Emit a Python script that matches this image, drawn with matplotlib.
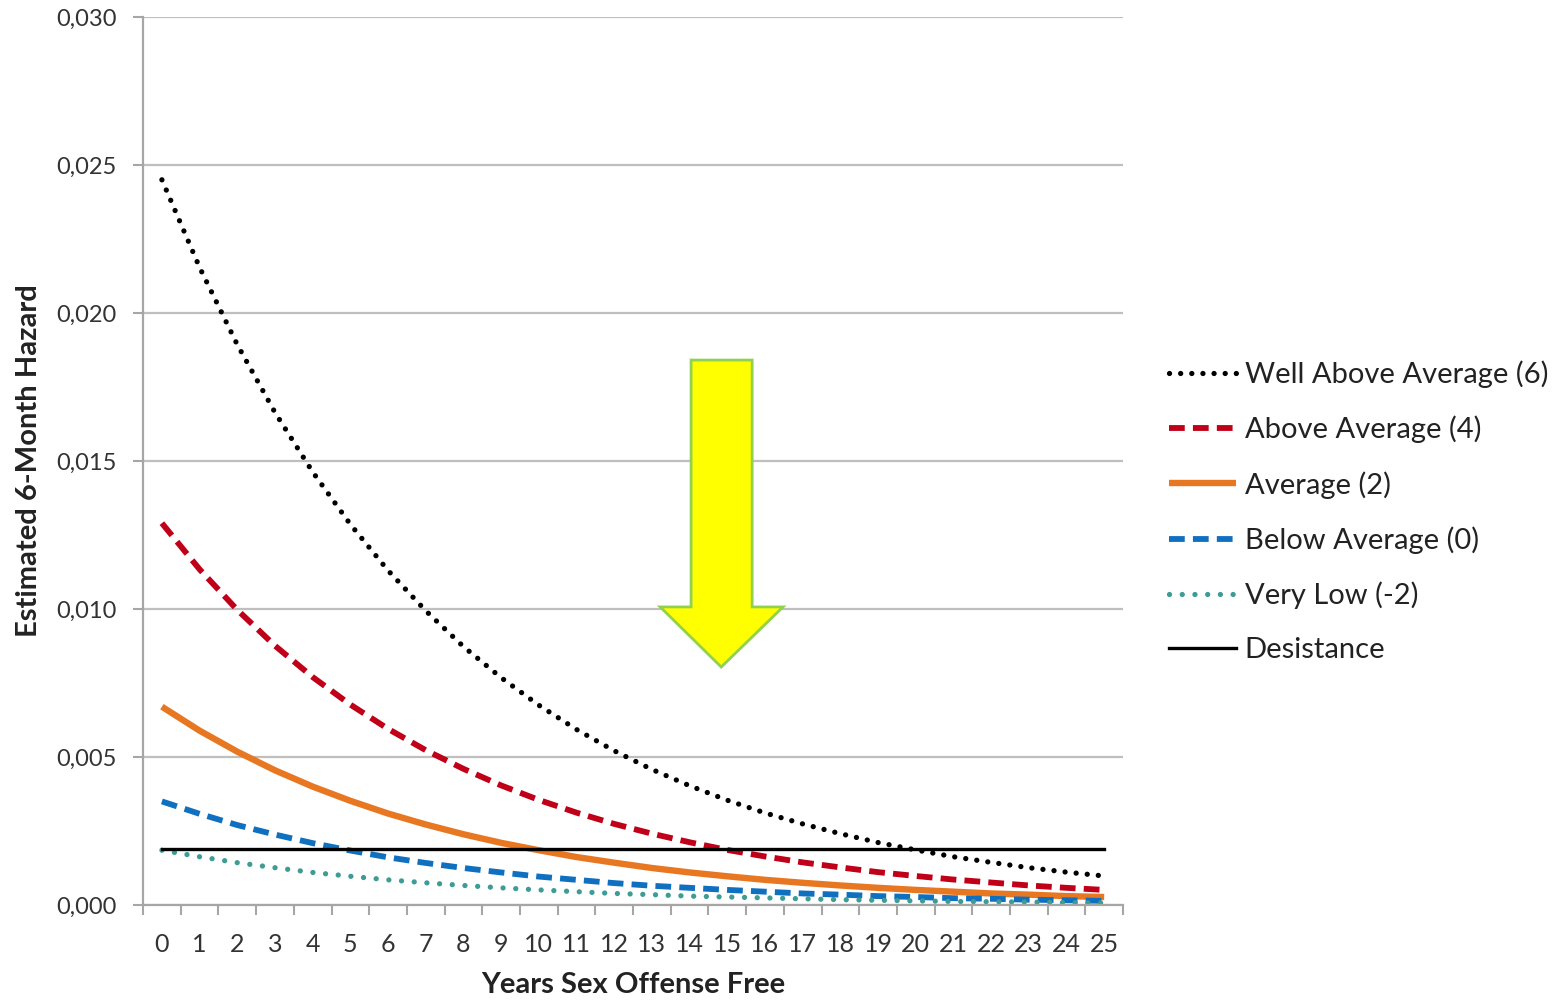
import numpy as np
import matplotlib
matplotlib.use("Agg")
import matplotlib.pyplot as plt
from matplotlib.patches import Polygon
from matplotlib.ticker import FuncFormatter, MultipleLocator

plt.rcParams['font.family'] = ['Lato', 'DejaVu Sans']

# values
years = list(range(0, 26))
well_above = [0.0245, 0.02154, 0.01893, 0.01664, 0.01463, 0.01286, 0.01130, 0.00994,
              0.00873, 0.00768, 0.00675, 0.00593, 0.00521, 0.00458, 0.00403, 0.00354,
              0.00311, 0.00274, 0.00241, 0.00211, 0.00186, 0.00163, 0.00144, 0.00126,
              0.00111, 0.00098]
above = [0.0129, 0.01134, 0.00997, 0.00876, 0.00770, 0.00677, 0.00595, 0.00523,
         0.00460, 0.00404, 0.00355, 0.00312, 0.00274, 0.00241, 0.00212, 0.00186,
         0.00164, 0.00144, 0.00127, 0.00111, 0.00098, 0.00086, 0.00076, 0.00066,
         0.00058, 0.00051]
average = [0.0067, 0.00589, 0.00518, 0.00455, 0.00400, 0.00352, 0.00309, 0.00272,
           0.00239, 0.00210, 0.00185, 0.00162, 0.00143, 0.00125, 0.00110, 0.00097,
           0.00085, 0.00075, 0.00066, 0.00058, 0.00051, 0.00045, 0.00039, 0.00035,
           0.00030, 0.00027]
below = [0.0035, 0.00308, 0.00270, 0.00238, 0.00209, 0.00184, 0.00161, 0.00142,
         0.00125, 0.00110, 0.00096, 0.00085, 0.00074, 0.00065, 0.00058, 0.00051,
         0.00045, 0.00039, 0.00035, 0.00030, 0.00027, 0.00023, 0.00021, 0.00018,
         0.00016, 0.00014]
very_low = [0.00185, 0.00163, 0.00143, 0.00126, 0.00110, 0.00097, 0.00085, 0.00075,
            0.00066, 0.00058, 0.00051, 0.00045, 0.00039, 0.00035, 0.00030, 0.00027,
            0.00024, 0.00021, 0.00018, 0.00016, 0.00014, 0.00012, 0.00011, 0.00010,
            0.00008, 0.00007]
desistance = [0.0019] * 26

fig = plt.figure(figsize=(15.6, 10), dpi=100)
ax = fig.add_axes([0.0917, 0.095, 0.6282, 0.888])

grey = "#A6A6A6"
ax.set_axisbelow(True)
ax.yaxis.grid(True, color="#BFBFBF", lw=1.6)

l1, = ax.plot(years, well_above, color="black", lw=3.8, linestyle=(0, (0.01, 2.1)),
              dash_capstyle="round", label="Well Above Average (6)")
l2, = ax.plot(years, above, color="#C00018", lw=4.2, linestyle=(0, (2.7, 1.4)),
              label="Above Average (4)")
l3, = ax.plot(years, average, color="#E87722", lw=4.6, solid_capstyle="butt",
              label="Average (2)")
l4, = ax.plot(years, below, color="#1070C0", lw=4.2, linestyle=(0, (2.7, 1.4)),
              label="Below Average (0)")
l5, = ax.plot(years, very_low, color="#3E9C94", lw=3.8, linestyle=(0, (0.01, 2.4)),
              dash_capstyle="round", label="Very Low (-2)")
l6, = ax.plot(years, desistance, color="black", lw=2.4, label="Desistance")

# big yellow arrow
arrow = Polygon([(14.04, 0.01841), (15.66, 0.01841), (15.66, 0.01007), (16.48, 0.01007),
                 (14.84, 0.00804), (13.22, 0.01007), (14.04, 0.01007)],
                closed=True, facecolor="#FFFF00", edgecolor="#92D050", lw=2, zorder=5)
ax.add_patch(arrow)

ax.set_xlim(-0.5, 25.5)
ax.set_ylim(0, 0.030)
ax.set_xticks(years)
ax.set_xticks(np.arange(-0.5, 26, 1), minor=True)
ax.yaxis.set_major_locator(MultipleLocator(0.005))
ax.yaxis.set_major_formatter(FuncFormatter(lambda v, p: f"{v:.3f}".replace(".", ",")))

ax.tick_params(axis="x", which="major", length=0, pad=20, labelsize=18, labelcolor="#333333")
ax.tick_params(axis="x", which="minor", length=7, width=1.5, color=grey, direction="out")
ax.tick_params(axis="y", length=7, width=1.5, color=grey, pad=12, labelsize=17,
               labelcolor="#333333")

for s in ["top", "right"]:
    ax.spines[s].set_visible(False)
for s in ["left", "bottom"]:
    ax.spines[s].set_color(grey)
    ax.spines[s].set_linewidth(1.6)

ax.set_xlabel("Years Sex Offense Free", fontsize=21, fontweight="bold", color="#222222",
              labelpad=12)
ax.set_ylabel("Estimated 6-Month Hazard", fontsize=21, fontweight="bold", color="#222222",
              labelpad=10)

leg = ax.legend(handles=[l1, l2, l3, l4, l5, l6], loc="center left",
                bbox_to_anchor=(1.02, 0.443), frameon=False, fontsize=21,
                handlelength=2.3, handletextpad=0.3, labelspacing=0.95)
for t in leg.get_texts():
    t.set_color("#222222")

fig.savefig("out.png", dpi=100)
